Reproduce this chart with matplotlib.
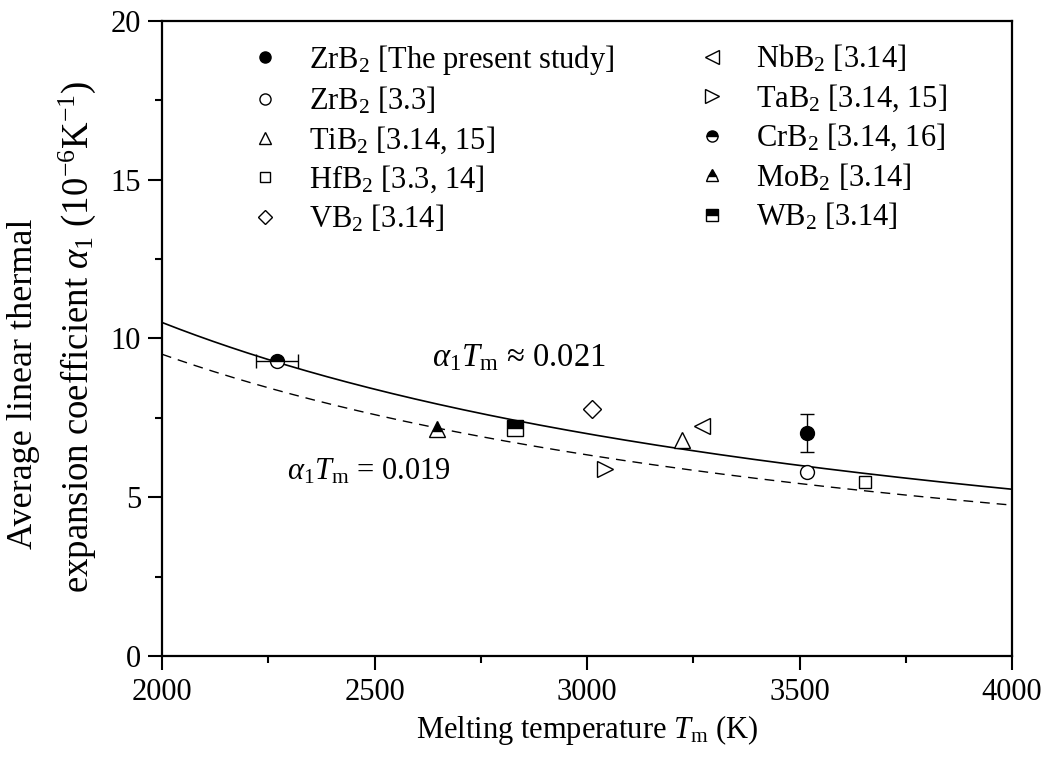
import numpy as np
import matplotlib
matplotlib.use("Agg")
import matplotlib.pyplot as plt
from matplotlib.ticker import MultipleLocator

plt.rcParams['font.family'] = ['Liberation Serif', 'DejaVu Serif']
plt.rcParams['mathtext.fontset'] = 'custom'
plt.rcParams['mathtext.rm'] = 'Liberation Serif'
plt.rcParams['mathtext.it'] = 'Liberation Serif:italic'
plt.rcParams['mathtext.bf'] = 'Liberation Serif:bold'

# ---------------- data ----------------
materials = ['ZrB$_2$', 'ZrB$_2$', 'TiB$_2$', 'HfB$_2$', 'VB$_2$',
             'NbB$_2$', 'TaB$_2$', 'CrB$_2$', 'MoB$_2$', 'WB$_2$']
references = ['[The present study]', '[3.3]', '[3.14, 15]', '[3.3, 14]', '[3.14]',
              '[3.14]', '[3.14, 15]', '[3.14, 16]', '[3.14]', '[3.14]']
melting_temp = [3517, 3517, 3224, 3653, 3012, 3270, 3042, 2270, 2646, 2831]   # K
cte = [7.02, 5.78, 6.80, 5.48, 7.77, 7.24, 5.88, 9.29, 7.14, 7.17]           # 1e-6 /K
cte_err = [0.59, 0, 0, 0, 0, 0, 0, 0, 0, 0]
tm_err = [0, 0, 0, 0, 0, 0, 0, 49, 0, 0]

fit_constants = [0.021, 0.019]          # alpha1 * Tm
fit_labels = [r'$\alpha_{\mathrm{1}}T_{\mathrm{m}}$ ≈ 0.021',
              r'$\alpha_{\mathrm{1}}T_{\mathrm{m}}$ = 0.019']

# ---------------- styles ----------------
marker_styles = [
    dict(marker='o', ms=10, mfc='black', fillstyle='full'),
    dict(marker='o', ms=10, mfc='white', fillstyle='full'),
    dict(marker='^', ms=11.5, mfc='white', fillstyle='full'),
    dict(marker='s', ms=9, mfc='white', fillstyle='full'),
    dict(marker='D', ms=9.3, mfc='white', fillstyle='full'),
    dict(marker='<', ms=12, mfc='white', fillstyle='full'),
    dict(marker='>', ms=12, mfc='white', fillstyle='full'),
    dict(marker='o', ms=10, mfc='black', mfcalt='white', fillstyle='top'),
    dict(marker='^', ms=11.3, mfc='black', mfcalt='white', fillstyle='top'),
    dict(marker='s', ms=11, mfc='black', mfcalt='white', fillstyle='top'),
]

fig = plt.figure(figsize=(10.51, 7.60), dpi=100)
ax = fig.add_axes([162/1051, 1-656/760, 850/1051, (656-20.7)/760])

T = np.linspace(2000, 4000, 300)
ax.plot(T, fit_constants[0] / T * 1e6, color='black', lw=1.2, zorder=2)
ax.plot(T, fit_constants[1] / T * 1e6, color='black', lw=1.0,
        linestyle=(0, (7, 5)), zorder=2)

handles = []
for i in range(len(materials)):
    st = marker_styles[i]
    h, = ax.plot([melting_temp[i]], [cte[i]], linestyle='none',
                 marker=st['marker'], markersize=st['ms'],
                 markerfacecolor=st['mfc'],
                 markerfacecoloralt=st.get('mfcalt', 'white'),
                 fillstyle=st['fillstyle'], markeredgecolor='black',
                 markeredgewidth=1.0, zorder=4,
                 label=materials[i] + ' ' + references[i])
    handles.append(h)
    if cte_err[i] > 0 or tm_err[i] > 0:
        ax.errorbar([melting_temp[i]], [cte[i]],
                    yerr=[cte_err[i]] if cte_err[i] > 0 else None,
                    xerr=[tm_err[i]] if tm_err[i] > 0 else None,
                    fmt='none', ecolor='black', elinewidth=1.0,
                    capsize=4.7, capthick=1.0, zorder=3)

ax.text(2635, 9.38, fit_labels[0], fontsize=23.5, va='center', ha='left')
ax.text(2294, 5.79, fit_labels[1], fontsize=22, va='center', ha='left')

ax.set_xlim(2000, 4000)
ax.set_ylim(0, 20)
ax.xaxis.set_major_locator(MultipleLocator(500))
ax.xaxis.set_minor_locator(MultipleLocator(250))
ax.yaxis.set_major_locator(MultipleLocator(5))
ax.yaxis.set_minor_locator(MultipleLocator(2.5))
ax.tick_params(which='both', direction='out', top=False, right=False,
               width=1.5, labelsize=22)
ax.tick_params(which='major', length=10)
ax.tick_params(which='minor', length=5)
ax.tick_params(axis='x', which='major', pad=6)
ax.tick_params(axis='y', which='major', pad=5)
for sp in ax.spines.values():
    sp.set_linewidth(1.6)

ax.set_xlabel(r'Melting temperature $T_{\mathrm{m}}$ (K)', fontsize=22, labelpad=4)
fig.text(24/1051, 1-384/760, 'Average linear thermal', rotation=90,
         fontsize=26, ha='center', va='center')
fig.text(77/1051, 1-337/760,
         r'expansion coefficient $\alpha_{\mathrm{1}}$ (10$^{-6}$K$^{-1}$)',
         rotation=90, fontsize=26.5, ha='center', va='center')

leg = ax.legend(handles=handles, ncol=2, loc='upper left',
                bbox_to_anchor=(0.096, 0.9655), frameon=False,
                fontsize=22, markerscale=0.8, handlelength=1.4,
                handletextpad=0.74, columnspacing=2.5, labelspacing=0.265,
                borderpad=0, borderaxespad=0)

fig.savefig('out.png', dpi=100)
